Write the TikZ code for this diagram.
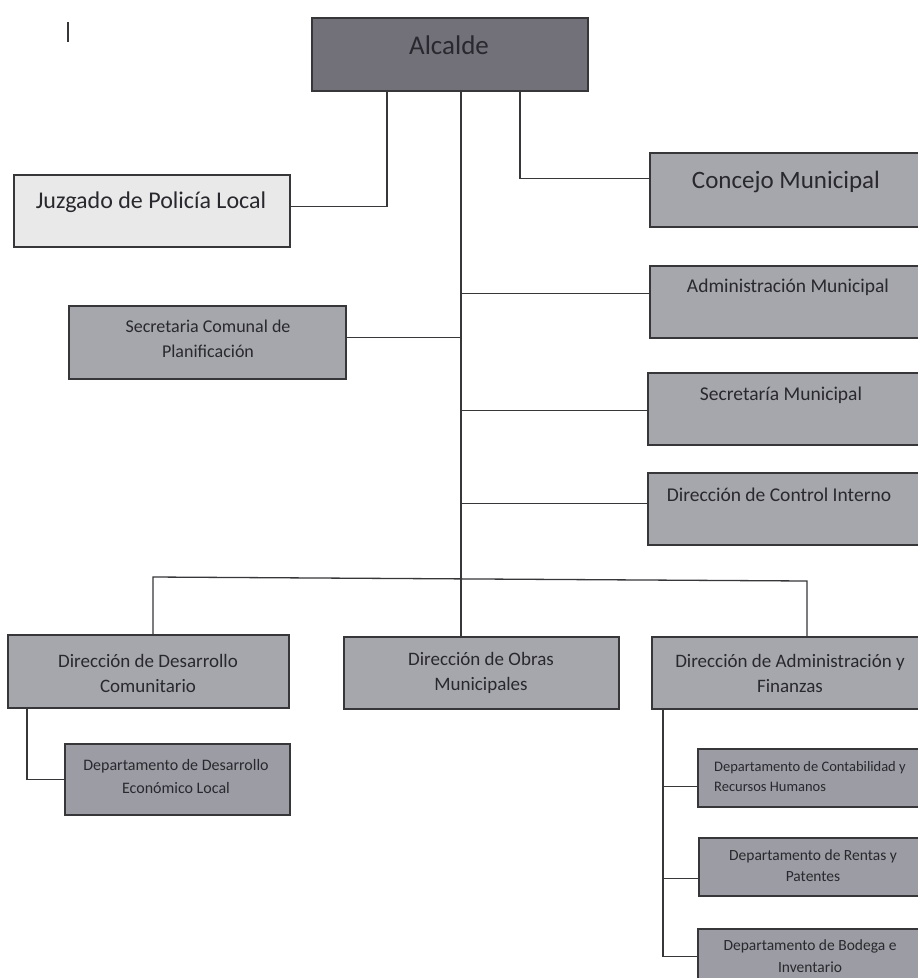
\documentclass[tikz,border=0pt]{standalone}
\usepackage{fontspec}
\setmainfont{Carlito}
\definecolor{darkfill}{RGB}{114,113,122}
\definecolor{midfill}{RGB}{166,166,173}
\definecolor{lightfill}{RGB}{233,233,233}
\definecolor{deptfill}{RGB}{156,156,164}
\definecolor{edge}{RGB}{55,55,58}
\definecolor{ink}{RGB}{40,40,46}
\tikzset{
  orgbox/.style={draw=edge, line width=2.4pt, fill=midfill, inner sep=0pt, anchor=north west},
  conn/.style={draw=edge, line width=1.3pt},
  lbl/.style={text=ink, inner sep=0pt, align=center},
}
\newcommand{\fs}[1]{\fontsize{#1}{#1}\selectfont}
\begin{document}
\begin{tikzpicture}[x=1pt,y=-1pt]
\useasboundingbox[fill=white] (0,0) rectangle (918,978);
% boxes
\node[orgbox, fill=darkfill, minimum width=276pt, minimum height=73pt] (alc) at (311,17) {};
\node[orgbox, fill=lightfill, minimum width=276pt, minimum height=72pt] (juz) at (13,174) {};
\node[orgbox, minimum width=280pt, minimum height=74pt] (con) at (649,152) {};
\node[orgbox, minimum width=280pt, minimum height=72pt] (adm) at (649,265) {};
\node[orgbox, minimum width=282pt, minimum height=72pt] (secm) at (647,372) {};
\node[orgbox, minimum width=282pt, minimum height=72pt] (dci) at (647,472) {};
\node[orgbox, minimum width=277pt, minimum height=73pt] (scp) at (68,305) {};
\node[orgbox, minimum width=281pt, minimum height=73pt] (ddc) at (7,634) {};
\node[orgbox, minimum width=275pt, minimum height=72pt] (dom) at (343,636) {};
\node[orgbox, minimum width=278pt, minimum height=72pt] (daf) at (651,636) {};
\node[orgbox, fill=deptfill, minimum width=225pt, minimum height=71pt] (dde) at (64,743) {};
\node[orgbox, fill=deptfill, minimum width=232pt, minimum height=58pt] (dcr) at (697,748) {};
\node[orgbox, fill=deptfill, minimum width=231pt, minimum height=58pt] (drp) at (698,837) {};
\node[orgbox, fill=deptfill, minimum width=232pt, minimum height=62pt] (dbi) at (697,928) {};
% texts
\node[lbl, font=\fs{27}] (alct) at (449,45) {Alcalde};
\node[lbl, font=\fs{24}] (juzt) at (151,202) {Juzgado de Policía Local};
\node[lbl, font=\fs{25}] (cont) at (786,182) {Concejo Municipal};
\node[lbl, font=\fs{19.5}] (admt) at (788,287) {Administración Municipal};
\node[lbl, font=\fs{19.5}] (secmt) at (781,395) {Secretaría Municipal};
\node[lbl, font=\fs{19.5}] (dcit) at (779,495) {Dirección de Control Interno};
\node[lbl, font=\fontsize{18}{25}\selectfont] (scpt) at (208,339) {Secretaria Comunal de\\Planificación};
\node[lbl, font=\fontsize{19}{25}\selectfont] (ddct) at (148,673) {Dirección de Desarrollo\\Comunitario};
\node[lbl, font=\fontsize{19}{25}\selectfont] (domt) at (481,673) {Dirección de Obras\\Municipales};
\node[lbl, font=\fontsize{19}{25}\selectfont] (daft) at (790,673) {Dirección de Administración y\\Finanzas};
\node[lbl, font=\fontsize{16}{23}\selectfont] (ddet) at (176,776) {Departamento de Desarrollo\\Económico Local};
\node[lbl, align=left, anchor=west, font=\fontsize{14.5}{20}\selectfont] (dcrt) at (714,777) {Departamento de Contabilidad y\\Recursos Humanos};
\node[lbl, font=\fontsize{15.5}{21}\selectfont] (drpt) at (813,866) {Departamento de Rentas y\\Patentes};
\node[lbl, font=\fontsize{15.5}{22}\selectfont] (dbit) at (810,956) {Departamento de Bodega e\\Inventario};
% mark at top left
\coordinate (mk1) at (68,22);
\coordinate (mk2) at (68,42);
\draw[line width=1.8pt, edge] (mk1) -- (mk2);
% connectors
\coordinate (trunk) at (461,578);
\coordinate (bl) at (153,577);
\coordinate (br) at (807,581);
\coordinate (dafl) at (663,0);
\coordinate (ddcl) at (27,0);
\draw[conn] (alc.south west) ++(76,0) |- ([yshift=5pt]juz.east);
\draw[conn] (alc.south west) ++(209,0) |- ([yshift=12pt]con.west);
\draw[conn] (alc.south -| trunk) -- (trunk);
\draw[conn] ([yshift=9pt]adm.west) -| (trunk);
\draw[conn] ([yshift=5pt]scp.east) -| (trunk);
\draw[conn] ([yshift=-1pt]secm.west) -| (trunk);
\draw[conn] ([yshift=6pt]dci.west) -| (trunk);
\draw[conn] (ddc.north -| bl) -- (bl) -- (br) -- (daf.north -| br);
\draw[conn] (trunk) -- (dom.north -| trunk);
\draw[conn] (ddc.south -| ddcl) |- (dde.west);
\draw[conn] (daf.south -| dafl) |- ([yshift=4pt]dbi.west);
\draw[conn] ([yshift=-8pt]dcr.west) -| (daf.south -| dafl);
\draw[conn] ([yshift=-11pt]drp.west) -| (daf.south -| dafl);
\end{tikzpicture}
\end{document}
